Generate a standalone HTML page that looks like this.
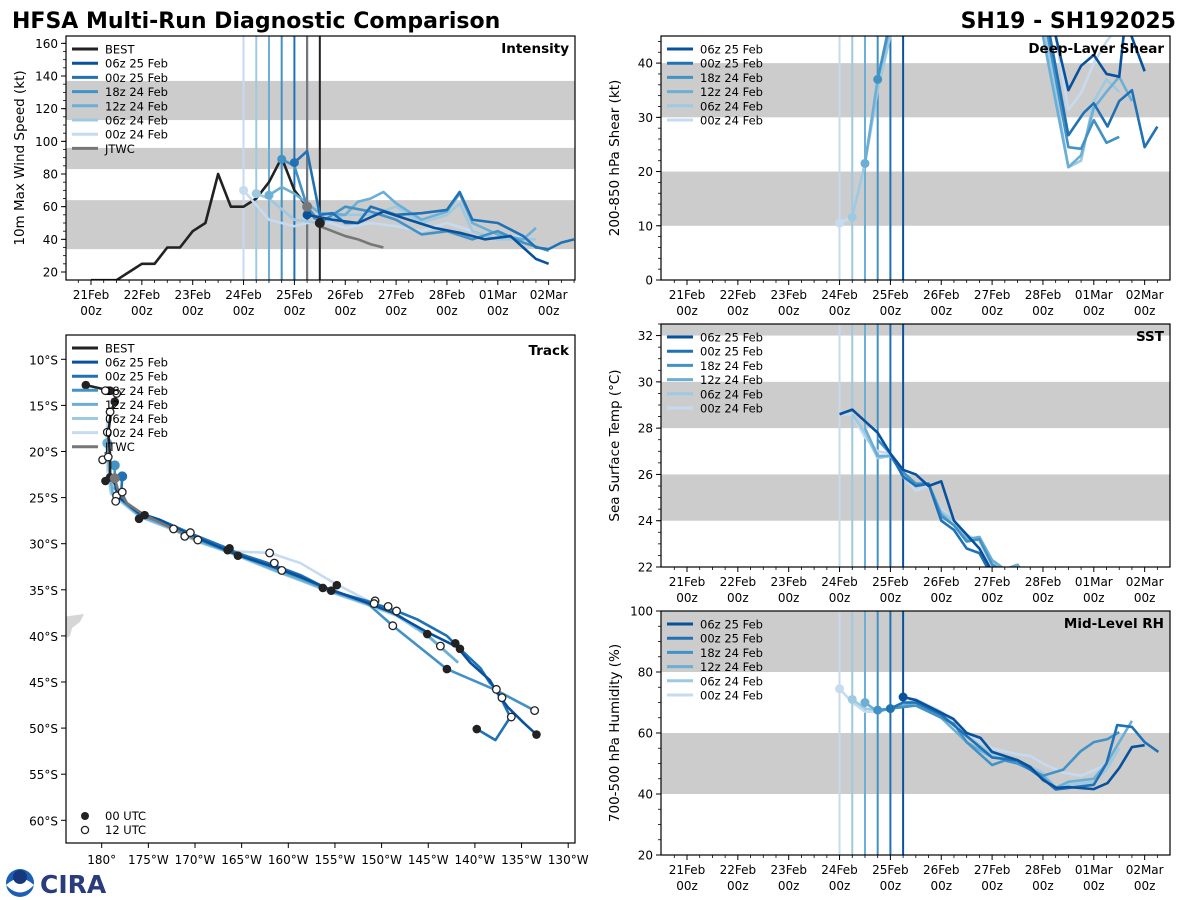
<!DOCTYPE html>
<html><head><meta charset="utf-8"><style>
html,body{margin:0;padding:0;background:#fff;}
svg{display:block;font-family:"DejaVu Sans","Liberation Sans",sans-serif;}
</style></head><body>
<svg id="fig" width="1200" height="900" viewBox="0 0 1200 900" xmlns="http://www.w3.org/2000/svg">
<text x="12" y="28" font-size="22" font-weight="bold" fill="#000">HFSA Multi-Run Diagnostic Comparison</text>
<text x="1176" y="28" font-size="22" font-weight="bold" text-anchor="end" fill="#000">SH19 - SH192025</text>
<g id="root"></g>
<g>
<circle cx="20" cy="883" r="14" fill="#1a5fb4"/>
<path d="M6,885 Q20,872 34,885 Q20,900 6,885Z" fill="#fff"/>
<circle cx="20" cy="877" r="7" fill="#17387a"/>
<text x="40" y="893" font-size="25" font-weight="bold" fill="#2a3c7a">CIRA</text>
</g>
</svg>
<script>
// ---------- DATA ----------
const runLabels = ['06z 25 Feb','00z 25 Feb','18z 24 Feb','12z 24 Feb','06z 24 Feb','00z 24 Feb'];
const runInit = [4.25, 4, 3.75, 3.5, 3.25, 3];
const dateLabels = ['21Feb','22Feb','23Feb','24Feb','25Feb','26Feb','27Feb','28Feb','01Mar','02Mar'];

const bestTimes = [0,0.25,0.5,0.75,1,1.25,1.5,1.75,2,2.25,2.5,2.75,3,3.25,3.5,3.75,4,4.25,4.5];
const bestWind = [15,15,15,20,25,25,35,35,45,50,80,60,60,65,75,90,70,60,50];
const jtwcTimes = [4.25,4.5,4.75,5,5.25,5.5,5.75];
const jtwcWind = [60,48,45,42,40,37,35];

const int06z25 = [[4.25,55],[4.75,52],[5.25,50],[5.75,57],[6.25,52],[6.75,47],[7.25,44],[7.75,40],[8.25,42],[8.5,35],[8.75,28],[9,25]];
const int00z25 = [[4,87],[4.25,94],[4.5,55],[4.75,56],[5,50],[5.25,50],[5.5,60],[6,55],[6.5,56],[7,58],[7.25,69],[7.5,52],[8,50],[8.5,42],[8.75,35],[9,34],[9.25,38],[9.5,40]];
const int18z24 = [[3.75,89],[4,85],[4.25,60],[4.5,50],[4.75,55],[5,60],[5.5,57],[6,52],[6.5,43],[7,45],[7.5,40],[8,45],[8.5,38],[9,33]];
const int12z24 = [[3.5,67],[3.75,72],[4,68],[4.5,56],[5,55],[5.25,63],[5.5,65],[5.75,69],[6,62],[6.5,52],[7,57],[7.25,68],[7.5,50],[8,43],[8.5,40],[8.75,47]];
const int06z24 = [[3.25,68],[3.5,65],[4,52],[4.5,50],[5,55],[5.5,55],[6,60],[6.5,50],[7,55],[7.25,62],[7.5,45],[8,40],[8.5,40],[8.75,40]];
const int00z24 = [[3,70],[3.5,52],[4,48],[4.5,52],[5,47],[5.5,50],[6,48],[6.5,45],[7,50],[7.5,45],[8,40],[8.5,42]];

const shr06z25 = [[4.25,52],[4.5,65],[6.5,65],[7,55],[7.5,35],[7.75,39.5],[8,41.5],[8.25,38],[8.5,37.5],[8.62,48],[9,38.5]];
const shr00z25 = [[4,50],[4.5,65],[6.5,65],[7,52],[7.5,26.7],[7.8,30.8],[8,32.6],[8.27,28.3],[8.5,33],[8.75,35],[9,24.5],[9.25,28.3]];
const shr18z24 = [[3.75,37],[4,48],[4.5,65],[6.5,65],[7,50],[7.5,24.5],[7.75,24.2],[8,29.5],[8.25,25.3],[8.5,26.4]];
const shr12z24 = [[3.5,21.5],[3.75,37],[4,47],[4.5,65],[6.5,65],[7,45],[7.5,20.8],[7.75,23],[8,31.7],[8.25,34.7],[8.5,37.5],[8.75,33]];
const shr06z24 = [[3.25,11.6],[3.5,21.5],[3.75,35],[4,45],[4.5,65],[6.5,65],[7,48],[7.5,20.8],[7.75,22],[8,33],[8.25,37],[8.5,34.7]];
const shr00z24 = [[3,10.5],[3.25,11.6],[3.5,21.5],[3.75,37],[4,46],[4.5,70],[6.5,70],[7,55],[7.25,45],[7.5,31.4],[7.75,34.5],[8,40],[8.25,44],[8.5,47]];

const sst06z25 = [[3,28.6],[3.25,28.8],[3.5,28.3],[3.75,27.8],[4,26.9],[4.25,26.2],[4.5,26],[4.75,25.5],[5,25.7],[5.25,24],[5.5,23.4],[5.75,22.8],[6,21.8]];
const sst00z25 = [[4,26.9],[4.25,25.9],[4.5,25.5],[4.75,25.6],[5,24],[5.25,23.6],[5.5,22.8],[5.75,22.6],[6,21.6]];
const sst18z24 = [[3.75,27.5],[4,26.9],[4.25,26.1],[4.5,25.6],[4.75,25.6],[5,24.2],[5.25,23.8],[5.5,23.1],[5.75,23.2],[6,22.1],[6.25,21.8]];
const sst12z24 = [[3.5,28],[3.75,26.8],[4,26.8],[4.25,26],[4.5,25.6],[4.75,25.6],[5,24.3],[5.25,23.8],[5.5,23.2],[5.75,23.3],[6,22.3],[6.25,21.9],[6.5,22.1],[6.6,21.8]];
const sst06z24 = [[3.25,28.6],[3.5,27.8],[3.75,26.7],[4,26.8],[4.25,26],[4.5,25.5],[4.75,25.6],[5,24.4],[5.25,24],[5.5,23.3],[5.75,23.2],[6,22.2],[6.25,21.8]];
const sst00z24 = [[3,28.6],[3.25,28.6],[3.5,27.6],[3.75,27],[4,26.9],[4.25,25.9],[4.5,25.3],[4.75,25.5],[5,24.5],[5.25,24],[5.5,23.4],[5.75,23.1],[6,22]];

const rh06z25 = [[4.25,71.8],[4.5,70.8],[5.24,64.6],[5.5,60],[5.77,58.4],[6,53.8],[6.5,51.1],[6.75,48.9],[7,44.6],[7.27,42],[7.5,42.3],[8,41.6],[8.27,43.6],[8.5,48.5],[8.75,55.4],[9,56]];
const rh00z25 = [[4,68],[4.25,70],[4.5,70],[5,66],[5.5,59],[6,52],[6.5,51],[7,45],[7.25,41.5],[7.5,42],[8,43],[8.25,50],[8.46,62.6],[8.75,62],[9,57],[9.27,53.8]];
const rh18z24 = [[3.75,67.5],[4,68],[4.5,69],[5,65],[5.25,63],[5.5,57],[6,49.5],[6.25,51],[6.5,50],[7,46],[7.4,48],[7.74,54],[8,57],[8.27,58],[8.5,60.3]];
const rh12z24 = [[3.5,70],[3.75,67],[4,68],[4.5,70],[5,65],[5.5,57],[6,52],[6.5,51],[7,46],[7.25,42],[7.5,44],[8,45],[8.25,50],[8.5,57],[8.75,64]];
const rh06z24 = [[3.25,71],[3.5,68],[3.75,67.5],[4,68],[4.5,70],[5,66],[5.5,59],[6,53],[6.5,51],[7,47],[7.25,42],[7.5,43],[8,44],[8.25,48],[8.5,55]];
const rh00z24 = [[3,74.5],[3.25,70],[3.5,67],[3.75,67],[4,68],[4.5,71],[5,67],[5.5,60],[6,55],[6.5,53],[6.75,52.5],[7,50],[7.4,47],[7.75,46],[8.25,49.5]];

// track data: [longitude degrees west (>180 = east of dateline), latitude degrees south]
const trackBest = [[181.7,12.8],[179.1,13.4],[178.4,13.5],[178.6,14.6],[179.0,15.7],[179.3,18.0],[179.1,20.4],[179.1,22.5],[178.5,23.6]];
const trackJtwc = [[178.6,22.9],[178.3,24.0],[177.3,25.6],[175.4,26.9],[172.3,28.4],[169.7,29.6]];
const track06z25 = [[179.1,22.9],[178.5,23.6],[178.3,24.9],[177.3,25.6],[176.0,26.7],[173.8,27.4],[170.2,29.2],[166.6,30.7],[165.5,31.2],[161.6,32.5],[158.7,33.6],[155.9,34.8],[151.6,36.4],[148.8,37.5],[145.1,39.6],[141.9,41.2],[140.5,42.9],[138.4,44.8],[137.6,46.2],[136.5,47.7],[134.8,49.4],[133.4,50.7]];
const track00z25 = [[177.8,22.7],[177.9,24.4],[177.3,25.6],[175.9,26.7],[173.8,27.4],[170.2,29.0],[166.5,30.5],[165.5,31.0],[161.6,32.3],[158.7,33.4],[155.4,35.1],[151.6,36.2],[148.4,37.3],[146.2,38.2],[143.0,40.0],[141.6,41.4],[139.4,43.5],[138.4,45.1],[137.7,45.8],[136.2,48.8],[137.8,51.3],[139.8,50.1]];
const track18z24 = [[178.6,21.5],[178.6,24.0],[177.5,25.6],[175.9,26.9],[173.8,27.6],[170.2,29.3],[166.6,30.8],[161.6,32.6],[158.7,33.7],[155.9,34.9],[151.6,36.4],[148.8,38.9],[143.0,43.6],[137.7,45.9],[133.6,48.1]];
const track12z24 = [[179.4,19.1],[179.2,22.0],[178.8,24.6],[177.3,25.8],[175.9,27.0],[172.3,28.4],[169.7,29.7],[166.5,30.8],[161.6,32.8],[158.7,33.9],[155.9,35.0],[151.6,36.5],[148.4,37.6],[145.1,39.9],[141.8,42.9]];
const track06z24 = [[179.3,17.9],[179.3,21.0],[179.0,24.5],[177.3,25.9],[175.9,27.1],[172.3,28.5],[169.7,29.8],[166.5,30.9],[161.6,32.9],[158.7,34.0],[155.9,35.1],[151.6,36.6],[148.4,37.8],[145.1,40.0],[141.8,42.9]];
const track00z24 = [[179.4,16.6],[179.5,19.0],[179.4,22.0],[179.0,24.6],[177.3,26.0],[175.9,27.1],[172.3,28.5],[169.7,29.8],[166.5,30.8],[162.0,31.0],[158.7,32.1],[155.2,34.2],[151.6,36.1],[148.4,37.8],[145.1,40.0],[141.8,42.9]];
const fix00utc = [[181.7,12.8],[179.1,13.4],[178.6,14.6],[179.6,23.2],[179.1,22.8],[178.7,22.9],[176.0,27.3],[175.4,26.9],[166.5,30.7],[166.3,30.5],[165.4,31.3],[156.3,34.8],[155.4,35.1],[154.8,34.5],[145.1,39.8],[142.1,40.8],[141.6,41.4],[143.0,43.6],[139.8,50.1],[133.4,50.7]];
const fix12utc = [[179.6,13.4],[178.4,13.7],[179.1,15.7],[179.4,17.9],[179.9,20.9],[179.3,20.6],[178.4,24.8],[177.8,24.4],[178.5,25.4],[172.3,28.4],[171.1,29.2],[170.5,28.8],[169.7,29.6],[162.0,31.0],[161.5,32.1],[160.7,32.9],[150.7,36.2],[150.8,36.5],[149.3,36.8],[148.4,37.3],[148.8,38.9],[143.7,41.1],[137.7,45.8],[137.1,46.7],[136.1,48.8],[133.6,48.1]];
const lonTicks = [180,175,170,165,160,155,150,145,140,135,130];
const latTicks = [10,15,20,25,30,35,40,45,50,55,60];

// ---------- STYLE ----------
const runColors = ['#08519c','#2171b5','#4292c6','#6baed6','#9ecae1','#c6dbef'];
const NS='http://www.w3.org/2000/svg';
const root=document.getElementById('root');
function el(tag,attrs,parent){const e=document.createElementNS(NS,tag);for(const k in attrs)e.setAttribute(k,attrs[k]);(parent||root).appendChild(e);return e;}
function txt(str,attrs,parent){const e=el('text',attrs,parent);e.textContent=str;return e;}
const DAYPX=50.85;

function makePanel(cfg){
  const g=el('g',{});
  
  
  const {x0,x1,y0,y1,vmin,vmax,dx0}=cfg;
  const X=d=>dx0+d*DAYPX;
  const Y=v=>y1-(v-vmin)/(vmax-vmin)*(y1-y0);
  const cid='clip-'+cfg.name;
  const cp=el('clipPath',{id:cid},g);el('rect',{x:x0,y:y0,width:x1-x0,height:y1-y0},cp);
  const plot=el('g',{'clip-path':'url(#'+cid+')'},g);
  cfg.bands.forEach(b=>{
    const r=el('rect',{x:x0,y:Y(Math.min(b[1],vmax)),width:x1-x0,height:Y(b[0])-Y(Math.min(b[1],vmax)),fill:'#cccccc'},plot);
    
    
  });
  for(let i=runInit.length-1;i>=0;i--){
    const l=el('line',{x1:X(runInit[i]),x2:X(runInit[i]),y1:y0,y2:y1,stroke:runColors[i],'stroke-width':2},plot);
    
    
  }
  (cfg.extraV||[]).forEach(v=>{
    const l=el('line',{x1:X(v[0]),x2:X(v[0]),y1:y0,y2:y1,stroke:v[1],'stroke-width':2},plot);
    
    
  });
  (cfg.extraSeries||[]).forEach(s=>{
    const p=el('polyline',{points:s.t.map((t,i)=>X(t)+','+Y(s.v[i])).join(' '),fill:'none',stroke:s.color,'stroke-width':2.6,'stroke-linejoin':'round'},plot);
    
    
  });
  for(let i=cfg.runs.length-1;i>=0;i--){
    const r=cfg.runs[i];
    const p=el('polyline',{points:r.map(q=>X(q[0])+','+Y(q[1])).join(' '),fill:'none',stroke:runColors[i],'stroke-width':2.6,'stroke-linejoin':'round'},plot);
    
    
    if(cfg.dots){
      const c=el('circle',{cx:X(r[0][0]),cy:Y(r[0][1]),r:4.5,fill:runColors[i]},plot);
      
      
    }
  }
  (cfg.extraDots||[]).forEach(d=>{
    const c=el('circle',{cx:X(d[0]),cy:Y(d[1]),r:5,fill:d[2]},plot);
    
    
  });
  const fr=el('rect',{x:x0,y:y0,width:x1-x0,height:y1-y0,fill:'none',stroke:'#000','stroke-width':1.2},g);
  
  
  for(let v=cfg.ymajor[0];v<=vmax+1e-6;v+=cfg.ymajor[1]){
    el('line',{x1:x0-5,x2:x0,y1:Y(v),y2:Y(v),stroke:'#000','stroke-width':1},g);
    const t=txt(String(v),{x:x0-8,y:Y(v)+4.5,'font-size':12,'text-anchor':'end',fill:'#000'},g);
    
    
  }
  for(let v=cfg.yminor[0];v<=vmax+1e-6;v+=cfg.yminor[1]){
    el('line',{x1:x0-3,x2:x0,y1:Y(v),y2:Y(v),stroke:'#000','stroke-width':0.8},g);
  }
  dateLabels.forEach((lab,i)=>{
    el('line',{x1:X(i),x2:X(i),y1:y1,y2:y1+5,stroke:'#000','stroke-width':1},g);
    const a=txt(lab,{x:X(i),y:y1+19,'font-size':12,'text-anchor':'middle',fill:'#000'},g);
    
    
    const b=txt('00z',{x:X(i),y:y1+35,'font-size':12,'text-anchor':'middle',fill:'#000'},g);
    
    
  });
  for(let d=-0.25;d<9.6;d+=0.25){
    if(Math.abs(d-Math.round(d))<1e-6)continue;
    const xx=X(d);if(xx<x0||xx>x1)continue;
    el('line',{x1:xx,x2:xx,y1:y1,y2:y1+3,stroke:'#000','stroke-width':0.8},g);
  }
  const yl=txt(cfg.ylabel,{x:0,y:0,'font-size':13.5,'text-anchor':'middle',fill:'#000',transform:'translate('+(x0-42)+','+((y0+y1)/2)+') rotate(-90)'},g);
  
  
  const pt=txt(cfg.title,{x:x1-6,y:y0+17,'font-size':13.5,'font-weight':'bold','text-anchor':'end',fill:'#000'},g);
  
  
  const lg=el('g',{},g);
  
  
  cfg.legend.forEach((e,i)=>{
    const yy=y0+13+i*14.2;
    el('line',{x1:x0+6,x2:x0+32,y1:yy,y2:yy,stroke:e[1],'stroke-width':3},lg);
    const t=txt(e[0],{x:x0+39,y:yy+4.5,'font-size':11.5,fill:'#000'},lg);
    
    
  });
}

const runLegend = runLabels.map((l,i)=>[l,runColors[i]]);

makePanel({name:'intensity',x0:66,x1:575,y0:36,y1:280,vmin:15.1,vmax:164.5,dx0:91,
  bands:[[34,64],[83,96],[113,137]],ymajor:[20,20],yminor:[20,5],
  runs:[int06z25,int00z25,int18z24,int12z24,int06z24,int00z24],dots:true,
  extraV:[[4.25,'#777777'],[4.5,'#222222']],
  extraSeries:[{name:'best-track-line',t:bestTimes,v:bestWind,color:'#222222'},{name:'jtwc-forecast-line',t:jtwcTimes,v:jtwcWind,color:'#777777'}],
  extraDots:[[jtwcTimes[0],jtwcWind[0],'#777777'],[bestTimes[bestTimes.length-1],bestWind[bestWind.length-1],'#222222']],
  ylabel:'10m Max Wind Speed (kt)',title:'Intensity',
  legend:[['BEST','#222222']].concat(runLegend).concat([['JTWC','#777777']])});

makePanel({name:'shear',x0:661,x1:1170,y0:36,y1:280,vmin:0,vmax:45,dx0:687,
  bands:[[10,20],[30,40]],ymajor:[0,10],yminor:[0,2],
  runs:[shr06z25,shr00z25,shr18z24,shr12z24,shr06z24,shr00z24],dots:true,
  ylabel:'200-850 hPa Shear (kt)',title:'Deep-Layer Shear',legend:runLegend});

makePanel({name:'sst',x0:661,x1:1170,y0:324,y1:567,vmin:22,vmax:32.5,dx0:687,
  bands:[[24,26],[28,30],[32,34]],ymajor:[22,2],yminor:[22,0.5],
  runs:[sst06z25,sst00z25,sst18z24,sst12z24,sst06z24,sst00z24],dots:false,
  ylabel:'Sea Surface Temp (°C)',title:'SST',legend:runLegend});

makePanel({name:'rh',x0:661,x1:1170,y0:611,y1:855,vmin:20,vmax:100,dx0:687,
  bands:[[40,60],[80,100]],ymajor:[20,20],yminor:[20,5],
  runs:[rh06z25,rh00z25,rh18z24,rh12z24,rh06z24,rh00z24],dots:true,
  ylabel:'700-500 hPa Humidity (%)',title:'Mid-Level RH',legend:runLegend.slice()});

// ---------- TRACK ----------
(function(){
  const x0=66,x1=575,y0=335,y1=843;
  const LX=lon=>101.7+(180-lon)*9.33;
  const LY=lat=>359.3+(lat-10)*9.22;
  const g=el('g',{});
  
  
  const cp=el('clipPath',{id:'clip-track'},g);el('rect',{x:x0,y:y0,width:x1-x0,height:y1-y0},cp);
  const plot=el('g',{'clip-path':'url(#clip-track)'},g);
  const land=el('path',{d:'M62,617 L84,614 L80,622 L72,628 L70,636 L62,640Z',fill:'#d6d6d6'},plot);
  
  
  const runsT=[track06z25,track00z25,track18z24,track12z24,track06z24,track00z24];
  for(let i=runsT.length-1;i>=0;i--){
    const p=el('polyline',{points:runsT[i].map(q=>LX(q[0])+','+LY(q[1])).join(' '),fill:'none',stroke:runColors[i],'stroke-width':2.6,'stroke-linejoin':'round'},plot);
    
    
  }
  [1,2,3].forEach(i=>{
    const c=el('circle',{cx:LX(runsT[i][0][0]),cy:LY(runsT[i][0][1]),r:5,fill:runColors[i]},plot);
    
    
  });
  const bp=el('polyline',{points:trackBest.map(q=>LX(q[0])+','+LY(q[1])).join(' '),fill:'none',stroke:'#222','stroke-width':2.6},plot);
  
  
  const jp=el('polyline',{points:trackJtwc.map(q=>LX(q[0])+','+LY(q[1])).join(' '),fill:'none',stroke:'#777','stroke-width':2.6},plot);
  
  
  fix00utc.forEach(q=>{
    const c=el('circle',{cx:LX(q[0]),cy:LY(q[1]),r:4.3,fill:'#222'},plot);
    
    
  });
  fix12utc.forEach(q=>{
    const c=el('circle',{cx:LX(q[0]),cy:LY(q[1]),r:3.8,fill:'#fff',stroke:'#222','stroke-width':1.3},plot);
    
    
  });
  const jd=el('circle',{cx:LX(trackJtwc[0][0]),cy:LY(trackJtwc[0][1]),r:5,fill:'#777'},plot);
  
  
  const fr=el('rect',{x:x0,y:y0,width:x1-x0,height:y1-y0,fill:'none',stroke:'#000','stroke-width':1.2},g);
  
  
  lonTicks.forEach(l=>{
    el('line',{x1:LX(l),x2:LX(l),y1:y1,y2:y1+5,stroke:'#000'},g);
    const t=txt(l===180?'180°':l+'°W',{x:LX(l),y:y1+21,'font-size':12,'text-anchor':'middle',fill:'#000'},g);
    
    
  });
  latTicks.forEach(l=>{
    el('line',{x1:x0-5,x2:x0,y1:LY(l),y2:LY(l),stroke:'#000'},g);
    const t=txt(l+'°S',{x:x0-8,y:LY(l)+5,'font-size':12,'text-anchor':'end',fill:'#000'},g);
    
    
  });
  const pt=txt('Track',{x:x1-6,y:y0+20,'font-size':13.5,'font-weight':'bold','text-anchor':'end',fill:'#000'},g);
  
  
  const lg=el('g',{},g);
  
  
  [['BEST','#222222']].concat(runLegend).concat([['JTWC','#777777']]).forEach((e,i)=>{
    const yy=y0+13+i*14.1;
    el('line',{x1:x0+6,x2:x0+32,y1:yy,y2:yy,stroke:e[1],'stroke-width':3},lg);
    const t=txt(e[0],{x:x0+39,y:yy+4.5,'font-size':11.5,fill:'#000'},lg);
    
    
  });
  el('circle',{cx:85,cy:816,r:4,fill:'#222'},lg);
  el('circle',{cx:85,cy:830,r:3.6,fill:'#fff',stroke:'#222','stroke-width':1.3},lg);
  const u0=txt('00 UTC',{x:105,y:820,'font-size':11.5,fill:'#000'},lg);
  
  
  const u1=txt('12 UTC',{x:105,y:834,'font-size':11.5,fill:'#000'},lg);
  
  
})();
</script>
</body></html>
